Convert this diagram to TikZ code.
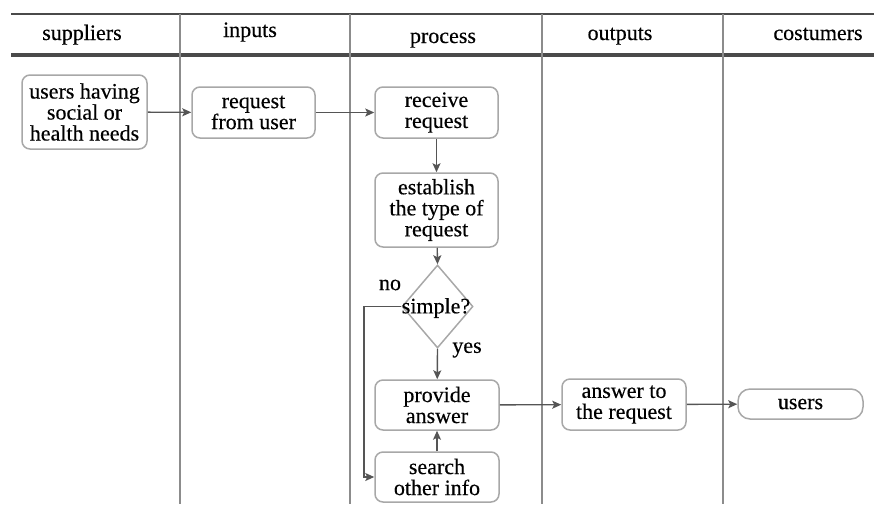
\documentclass[tikz,border=0pt]{standalone}
\usepackage{fontspec}
\setmainfont{Liberation Serif}
\newfontfamily\figfont[FakeBold=0.3]{Liberation Serif}
\usetikzlibrary{arrows.meta,shapes.geometric}
\definecolor{boxc}{HTML}{A8A8A8}
\definecolor{arrc}{HTML}{555555}
\definecolor{linec}{HTML}{4A4A4A}
\definecolor{colc}{HTML}{8C8C8C}
\newcommand\figfs{\figfont\fontsize{22}{21}\selectfont}
\begin{document}
\begin{tikzpicture}[x=1pt,y=-1pt,
  box/.style={draw=boxc, line width=1.5pt, rounded corners=8pt, align=center, inner sep=0pt, font=\figfs, fill=white},
  flow/.style={draw=arrc, line width=1.4pt, -{Stealth[length=9pt,width=8pt,inset=2pt]}},
  head/.style={anchor=base, font=\figfs, inner sep=0pt},
  lbl/.style={font=\figfs, inner sep=0pt},
]
\useasboundingbox (0,0) rectangle (874,504);
% table lines
\coordinate (tl) at (11,14);
\coordinate (tr) at (874,14);
\coordinate (hl) at (11,55);
\coordinate (hr) at (874,55);
\draw[linec, line width=2pt] (tl) -- (tr);
\draw[linec, line width=3.2pt] (hl) -- (hr);
\foreach \cx in {180,350,542,723}{
  \draw[colc, line width=1.6pt] (\cx,14) -- (\cx,504);
}
% headers
\node[head] (h1) at (82,40) {suppliers};
\node[head] (h2) at (250,37) {inputs};
\node[head] (h3) at (443,43) {process};
\node[head] (h4) at (620,40) {outputs};
\node[head] (h5) at (818,40) {costumers};
% nodes
\node[box, minimum width=125pt, minimum height=74pt] (sup) at (84.5,112) {users having\\social or\\health needs};
\node[box, minimum width=123pt, minimum height=51pt] (req) at (253.5,112.5) {request\\from user};
\node[box, minimum width=123pt, minimum height=51pt] (rec) at (436.5,112.5) {receive\\request};
\node[box, minimum width=123pt, minimum height=74pt] (est) at (436.5,210) {establish\\the type of\\request};
\node[draw=boxc, line width=1.5pt, diamond, inner sep=0pt, minimum width=71pt, minimum height=83pt] (dia) at (437.5,306.5) {};
\node[lbl] (diat) at (436,308) {simple?};
\node[box, minimum width=124pt, minimum height=50pt] (prov) at (437,405) {provide\\answer};
\node[box, minimum width=124pt, minimum height=50pt] (srch) at (437,477) {search\\other info};
\node[box, minimum width=124pt, minimum height=51pt] (ans) at (624,404.5) {answer to\\the request};
\node[box, minimum width=125pt, minimum height=30pt, rounded corners=12pt] (usr) at (800.5,404) {users};
\node[lbl] (no) at (390,285) {no};
\node[lbl] (yes) at (467,350) {yes};
\coordinate (bendA) at (364,306.5);
\coordinate (bendB) at (364,477);
% connectors
\draw[flow] (sup) -- (req);
\draw[flow] (req) -- (rec);
\draw[flow] (rec) -- (est);
\draw[flow] (est) -- (dia.north);
\draw[flow] (dia.south) -- (prov);
\draw[flow] (srch) -- (prov);
\draw[flow] (dia.west) -- (bendA) -- (bendB) -- (srch.west);
\draw[flow] (prov) -- (ans);
\draw[flow] (ans) -- (usr);
\end{tikzpicture}
\end{document}
